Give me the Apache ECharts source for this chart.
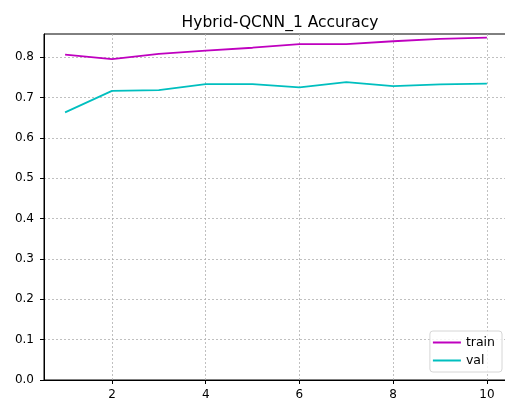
<!DOCTYPE html>
<html>
<head>
<meta charset="utf-8">
<script src="https://cdn.jsdelivr.net/npm/echarts@6/dist/echarts.min.js"></script>
<style>
  html, body { margin: 0; padding: 0; background: #fff; }
  #chart { width: 505px; height: 400px; }
</style>
</head>
<body>
<div id="chart"></div>
<script>
// epochs and accuracy
const epochs = [1, 2, 3, 4, 5, 6, 7, 8, 9, 10];
const trainAcc = [0.806, 0.795, 0.808, 0.816, 0.823, 0.832, 0.832, 0.839, 0.845, 0.848];
const valAcc = [0.663, 0.716, 0.718, 0.733, 0.733, 0.725, 0.738, 0.728, 0.732, 0.734];
const xTicks = [2, 4, 6, 8, 10];
const yTicks = [0, 0.1, 0.2, 0.3, 0.4, 0.5, 0.6, 0.7, 0.8];

const chart = echarts.init(document.getElementById('chart'), null, { renderer: 'canvas' });

const font = 'DejaVu Sans';
const gridLine = { show: true, lineStyle: { color: '#b0b0b0', width: 0.8, type: [2, 2] } };

const option = {
  animation: false,
  backgroundColor: '#fff',
  title: {
    text: 'Hybrid-QCNN_1 Accuracy',
    left: 275,
    textAlign: 'center',
    top: 10,
    textStyle: { fontFamily: font, fontSize: 15.5, fontWeight: 'normal', color: '#000' }
  },
  grid: {
    left: 44, top: 34, width: 464, bottom: 20,
    outerBoundsMode: 'none',
    show: true, borderColor: '#000', borderWidth: 1
  },
  legend: {
    orient: 'vertical',
    right: 3,
    bottom: 28,
    data: ['train', 'val'],
    icon: 'rect',
    itemWidth: 28,
    itemHeight: 2,
    itemGap: 5,
    padding: [5, 7, 5, 3],
    backgroundColor: 'rgba(255,255,255,0.8)',
    borderColor: '#d6d6d6',
    borderWidth: 1,
    borderRadius: 3,
    textStyle: { fontFamily: font, fontSize: 12.5, color: '#000' }
  },
  xAxis: {
    type: 'value',
    min: 0.55,
    max: 10.45,
    axisLine: { show: true, onZero: false, lineStyle: { color: '#000', width: 1 } },
    axisTick: { show: true, length: 4, customValues: xTicks, lineStyle: { color: '#000' } },
    axisLabel: { customValues: xTicks, margin: 9, fontFamily: font, fontSize: 12, color: '#000' },
    splitLine: gridLine
  },
  yAxis: {
    type: 'value',
    min: 0,
    max: 0.857,
    axisLine: { show: true, lineStyle: { color: '#000', width: 1 } },
    axisTick: { show: true, length: 4, customValues: yTicks, lineStyle: { color: '#000' } },
    axisLabel: {
      customValues: yTicks, margin: 10, fontFamily: font, fontSize: 12, color: '#000',
      formatter: v => v.toFixed(1)
    },
    splitLine: gridLine
  },
  series: [
    {
      name: 'train',
      type: 'line',
      data: epochs.map((e, i) => [e, trainAcc[i]]),
      showSymbol: false,
      color: '#bf00bf',
      lineStyle: { width: 1.8, color: '#bf00bf' }
    },
    {
      name: 'val',
      type: 'line',
      data: epochs.map((e, i) => [e, valAcc[i]]),
      showSymbol: false,
      color: '#00bfbf',
      lineStyle: { width: 1.8, color: '#00bfbf' }
    }
  ]
};

chart.setOption(option);
</script>
</body>
</html>
